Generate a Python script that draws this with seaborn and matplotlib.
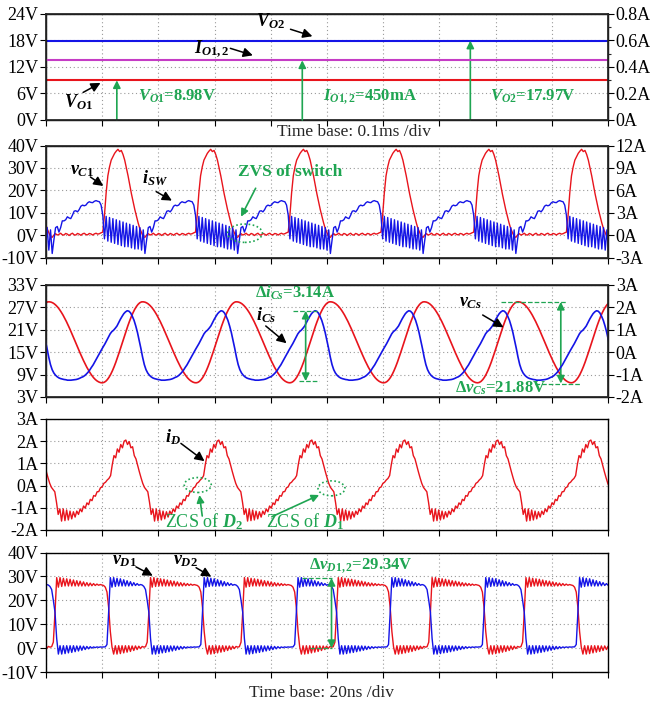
import numpy as np
import pandas as pd
import matplotlib
matplotlib.use("Agg")
import matplotlib.pyplot as plt
import seaborn as sns
from matplotlib.patches import Ellipse

# ---------------- panel 1: DC output levels (time base 0.1 ms/div) ----------------
P1_TIME_MS = [0.0, 1.0]
V_O1 = [8.98, 8.98]        # V
V_O2 = [17.97, 17.97]      # V
I_O12 = [0.45, 0.45]       # A

# ---------------- panels 2-5: one switching cycle each (time base 20 ns/div) --------
# panel 2: v_C1 (V) and i_SW (A); cycle starts at switch turn-off
P2_PERIOD_NS = 33.0
P2_START_NS = 20.2
VC1_CYCLE = [1.5, 9, 19, 26.5, 30.5, 33.5, 35, 36.5, 37.5, 38.3, 37.3, 37.8, 36, 33.5,
             30, 26.5, 22.5, 18.5, 15, 11.5, 8.5, 5.5, 3, 1.2, -0.5, -0.8, 0.2, 0.8,
             0.2, 0.5, 1.0, 0.3, 0.2, 0.9, 0.6, 0.0, 0.6, 1.0, 0.3, 0.2, 0.9, 0.6,
             0.1, 0.7, 1.0, 0.4, 0.3, 0.9, 0.7, 0.2, 0.7, 1.0, 0.6, 0.8, 1.2]
ISW_CYCLE = [2.7, -0.45, 2.55, -0.75, 2.4, -0.9, 2.25, -1.05, 2.1, -1.2, 1.95, -1.35,
             1.8, -1.5, 1.65, -1.5, 1.5, -1.65, 1.35, -1.8, 1.2, -1.8, 1.05, -1.95,
             0.75, -2.4, -0.6, 1.05, 1.2, 0.45, 1.05, 1.95, 1.95, 2.1, 2.49, 2.34,
             2.25, 2.7, 3.24, 3.3, 3.15, 3.45, 3.9, 4.05, 3.96, 4.05, 4.35, 4.5,
             4.41, 4.38, 4.56, 4.65, 4.56, 4.5, 4.05]

# panel 3: v_Cs (V, cycle starts at trough) and i_Cs (A, cycle starts at peak)
P3_PERIOD_NS = 33.4
VCS_START_NS = 20.0
ICS_START_NS = 28.9
VCS_CYCLE = [6.8, 6.9, 7.18, 7.65, 8.29, 9.09, 10.05, 11.14, 12.34, 13.64, 15.01, 16.42,
             17.85, 19.29, 20.69, 22.04, 23.3, 24.47, 25.52, 26.44, 27.2, 27.81, 28.23,
             28.47, 28.49, 28.41, 28.22, 27.92, 27.51, 27.01, 26.41, 25.72, 24.96,
             24.11, 23.22, 22.25, 21.25, 20.2, 19.13, 18.05, 16.95, 15.87, 14.81,
             13.77, 12.78, 11.83, 10.94, 10.13, 9.38, 8.72, 8.13, 7.66, 7.29, 7.02, 6.85]
ICS_CYCLE = [1.85, 1.83, 1.75, 1.60, 1.42, 1.17, 0.88, 0.53, 0.17, -0.22, -0.55, -0.78,
             -0.93, -1.03, -1.10, -1.15, -1.18, -1.20, -1.22, -1.23, -1.25, -1.25,
             -1.25, -1.24, -1.23, -1.22, -1.20, -1.17, -1.13, -1.10, -1.05, -0.98,
             -0.90, -0.80, -0.68, -0.57, -0.43, -0.30, -0.15, -0.02, 0.12, 0.25, 0.38,
             0.53, 0.68, 0.82, 0.92, 0.98, 1.07, 1.17, 1.32, 1.47, 1.60, 1.72, 1.80]

# panel 4: i_D (A), cycle starts at peak
P4_PERIOD_NS = 33.1
P4_START_NS = 28.4
ID_CYCLE = [2.05, 1.85, 1.98, 1.70, 1.75, 1.35, 1.20, 0.90, 0.62, 0.35, 0.10, -0.08,
            -0.18, -0.28, -0.75, -1.30, -1.05, -1.60, -1.05, -1.58, -1.10, -1.55,
            -1.15, -1.50, -1.18, -1.42, -1.15, -1.30, -1.05, -1.18, -0.92, -1.02,
            -0.78, -0.86, -0.62, -0.68, -0.45, -0.48, -0.28, -0.27, -0.10, -0.06,
            0.10, 0.15, 0.25, 0.32, 0.45, 0.95, 1.35, 1.25, 1.65, 1.50, 1.85, 1.70, 2.00]

# panel 5: v_D1 and v_D2 (V), cycle starts at v_D1 rising edge
P5_PERIOD_NS = 33.4
P5_START_NS = 3.2
VD1_CYCLE = [15, 29.5, 25.5, 29.5, 25.8, 29.2, 26.0, 29.0, 26.0, 28.8, 26.0, 28.5, 26.0,
             28.2, 26.0, 28.0, 26.0, 27.7, 26.0, 27.4, 26.0, 27.2, 26.1, 27.0, 26.2,
             26.8, 26.3, 26.6, 26.4, 26.2, 25.5, 23.5, 17.0, 7.0, 0.5, -2.5, 1.0, -2.5,
             1.0, -2.3, 1.0, -2.0, 1.0, -1.7, 1.0, -1.4, 0.9, -1.0, 0.9, -0.6, 0.8,
             -0.2, 0.7, 0.4, 0.6, 2.5]
VD2_CYCLE = [15, 4.0, -2.5, 1.0, -2.5, 1.0, -2.3, 1.0, -2.0, 1.0, -1.8, 1.0, -1.5, 0.9,
             -1.2, 0.9, -0.9, 0.8, -0.6, 0.7, -0.3, 0.6, 0.0, 0.5, 0.2, 0.5, 0.3, 0.5,
             0.4, 0.5, 0.5, 1.5, 15.0, 29.5, 25.5, 29.5, 25.8, 29.2, 26.0, 29.0, 26.0,
             28.6, 26.0, 28.2, 26.0, 27.8, 26.1, 27.4, 26.2, 27.0, 26.3, 26.6, 26.4,
             25.8, 24.5, 20.0]

# annotated measurements
DELTA_ICS = 3.14
DELTA_VCS = 21.88
DELTA_VD = 29.34

# tick values
P1_LEFT, P1_RIGHT = [0, 6, 12, 18, 24], [0, 0.2, 0.4, 0.6, 0.8]
P2_LEFT, P2_RIGHT = [-10, 0, 10, 20, 30, 40], [-3, 0, 3, 6, 9, 12]
P3_LEFT, P3_RIGHT = [3, 9, 15, 21, 27, 33], [-2, -1, 0, 1, 2, 3]
P4_LEFT = [-2, -1, 0, 1, 2, 3]
P5_LEFT = [-10, 0, 10, 20, 30, 40]

RED, BLUE, MAG, GREEN = "#e8141c", "#1414e6", "#c53cc5", "#1fa552"
T_END = 200.0
TICK_FS = 13

# ---------------- style ----------------
sns.set_theme(style="ticks")
plt.rcParams["font.family"] = ["Liberation Serif", "DejaVu Serif"]
plt.rcParams["mathtext.fontset"] = "custom"
plt.rcParams["mathtext.rm"] = "Liberation Serif:bold"
plt.rcParams["mathtext.it"] = "Liberation Serif:italic:bold"
plt.rcParams["mathtext.bf"] = "Liberation Serif:bold"


def periodic(cycle, period, start, t_end=T_END):
    n = len(cycle)
    step = period / n
    first = start - period * np.ceil(start / period)
    reps = int(np.ceil((t_end - first) / period)) + 1
    t = first + np.arange(n * reps) * step
    return pd.DataFrame({"t": t, "v": np.tile(np.asarray(cycle, float), reps)})


def trace(ax, df, color, lw=1.0):
    sns.lineplot(data=df, x="t", y="v", ax=ax, color=color, linewidth=lw,
                 estimator=None, sort=False, legend=False)
    ax.set_xlabel("")
    ax.set_ylabel("")


def style(ax, xmax, ylim, yticks, unit):
    ax.set_xlim(0, xmax)
    ax.set_ylim(*ylim)
    ax.set_xticks(np.linspace(0, xmax, 11))
    ax.set_xticklabels([])
    ax.set_yticks(yticks)
    ax.set_yticklabels([f"{v:g}{unit}" for v in yticks])
    ax.grid(True, ls=(0, (1, 2.5)), color="#9a9a9a", lw=0.8)
    ax.tick_params(direction="out", length=4, width=0.8, labelsize=TICK_FS, pad=1.5,
                   colors="black")
    for s in ax.spines.values():
        s.set_visible(True)
        s.set_color("black")
        s.set_linewidth(1.0)


def right_axis(ax2, ylim, yticks):
    ax2.set_ylim(*ylim)
    ax2.set_yticks(yticks)
    ax2.set_yticklabels([f"{v:g}A" for v in yticks])
    ax2.tick_params(direction="out", length=4, width=0.8, labelsize=TICK_FS, pad=1.5,
                    colors="black")
    ax2.grid(False)
    ax2.set_ylabel("")


def label(ax, text, xy, tail, head, size=13, color="black"):
    ax.text(xy[0], xy[1], text, transform=ax.transAxes, ha="center", va="center",
            fontsize=size, color=color)
    ax.annotate("", xy=head, xytext=tail, xycoords="axes fraction",
                textcoords="axes fraction",
                arrowprops=dict(arrowstyle="-|>", color=color, lw=1.1,
                                mutation_scale=14, shrinkA=0, shrinkB=0))


def garrow(ax, head, tail, coords="axes fraction", style="-|>"):
    ax.annotate("", xy=head, xytext=tail, xycoords=coords, textcoords=coords,
                arrowprops=dict(arrowstyle=style, color=GREEN, lw=1.2,
                                mutation_scale=11, shrinkA=0, shrinkB=0))


def gellipse(ax, c, w, h):
    ax.add_patch(Ellipse(c, w, h, transform=ax.transAxes, fill=False, ec=GREEN,
                         ls=(0, (1, 1.5)), lw=1.2, zorder=5))


def gtext(ax, xy, text, size=12, weight="bold"):
    ax.text(xy[0], xy[1], text, transform=ax.transAxes, ha="center", va="center",
            fontsize=size, color=GREEN, fontweight=weight)


fig = plt.figure(figsize=(6.5, 7.07), dpi=100)
L, W = 0.0708, 0.8646
ax1 = fig.add_axes([L, 0.8303, W, 0.1499])
ax2 = fig.add_axes([L, 0.6351, W, 0.1591])
ax3 = fig.add_axes([L, 0.4385, W, 0.1584])
ax4 = fig.add_axes([L, 0.2504, W, 0.1570])
ax5 = fig.add_axes([L, 0.0495, W, 0.1690])

# ---------- panel 1 ----------
trace(ax1, pd.DataFrame({"t": P1_TIME_MS, "v": V_O2}), BLUE, lw=1.5)
trace(ax1, pd.DataFrame({"t": P1_TIME_MS, "v": V_O1}), RED, lw=1.5)
style(ax1, 1.0, (0, 24), P1_LEFT, "V")
ax1r = ax1.twinx()
trace(ax1r, pd.DataFrame({"t": P1_TIME_MS, "v": I_O12}), MAG, lw=1.5)
right_axis(ax1r, (0, 0.8), P1_RIGHT)
ax1r.set_yticks([0.1, 0.3, 0.5, 0.7], minor=True)
ax1r.tick_params(which="minor", direction="out", length=2.5, width=0.8)

label(ax1r, r"$V_{O2}$", (0.40, 0.935), (0.435, 0.856), (0.474, 0.79))
label(ax1r, r"$I_{O1,2}$", (0.294, 0.665), (0.328, 0.676), (0.368, 0.61))
label(ax1r, r"$V_{O1}$", (0.057, 0.165), (0.066, 0.26), (0.097, 0.35))
garrow(ax1, (0.126, V_O1[0]), (0.126, 0.0), coords="data")
garrow(ax1r, (0.456, I_O12[0]), (0.456, 0.0), coords="data")
garrow(ax1, (0.755, V_O2[0]), (0.755, 0.0), coords="data")
gtext(ax1r, (0.233, 0.22), rf"$V_{{O1}}$={V_O1[0]:.2f}V")
gtext(ax1r, (0.576, 0.22), rf"$I_{{O1,2}}$={I_O12[0]*1000:.0f}mA")
gtext(ax1r, (0.865, 0.22), rf"$V_{{O2}}$={V_O2[0]:.2f}V")
fig.text(0.545, 0.813, "Time base: 0.1ms /div", ha="center", va="center", fontsize=12.5)

# ---------- panel 2 ----------
trace(ax2, periodic(VC1_CYCLE, P2_PERIOD_NS, P2_START_NS), RED)
style(ax2, T_END, (-10, 40), P2_LEFT, "V")
ax2r = ax2.twinx()
trace(ax2r, periodic(ISW_CYCLE, P2_PERIOD_NS, P2_START_NS), BLUE)
right_axis(ax2r, (-3, 12), P2_RIGHT)
label(ax2r, r"$v_{C1}$", (0.064, 0.78), (0.079, 0.72), (0.102, 0.64))
label(ax2r, r"$i_{SW}$", (0.194, 0.71), (0.196, 0.59), (0.224, 0.51))
gtext(ax2r, (0.435, 0.76), "ZVS of switch", size=12.5)
garrow(ax2r, (0.347, 0.367), (0.373, 0.62))
gellipse(ax2r, (0.354, 0.22), 0.062, 0.163)

# ---------- panel 3 ----------
trace(ax3, periodic(VCS_CYCLE, P3_PERIOD_NS, VCS_START_NS), RED, lw=1.2)
style(ax3, T_END, (3, 33), P3_LEFT, "V")
ax3r = ax3.twinx()
trace(ax3r, periodic(ICS_CYCLE, P3_PERIOD_NS, ICS_START_NS), BLUE, lw=1.2)
right_axis(ax3r, (-2, 3), P3_RIGHT)
ics_top = max(ICS_CYCLE)
ics_bot = ics_top - DELTA_ICS
ax3r.axhline(ics_top, 0.439, 0.483, color=GREEN, ls="--", lw=0.9)
ax3r.axhline(ics_bot, 0.450, 0.486, color=GREEN, ls="--", lw=0.9)
garrow(ax3r, (0.462 * T_END, ics_top), (0.462 * T_END, ics_bot), coords="data",
       style="<|-|>")
gtext(ax3r, (0.443, 0.926), rf"Δ$i_{{Cs}}$={DELTA_ICS:.2f}A")
vcs_top = max(VCS_CYCLE)
vcs_bot = vcs_top - DELTA_VCS
ax3.axhline(vcs_top, 0.81, 0.927, color=GREEN, ls="--", lw=0.9)
ax3.axhline(vcs_bot, 0.87, 0.95, color=GREEN, ls="--", lw=0.9)
ax3.annotate("", xy=(0.916 * T_END, vcs_top), xytext=(0.916 * T_END, vcs_bot),
             arrowprops=dict(arrowstyle="<|-|>", color=GREEN, lw=1.2,
                             mutation_scale=11, shrinkA=0, shrinkB=0), zorder=6)
gtext(ax3r, (0.808, 0.078), rf"Δ$v_{{Cs}}$={DELTA_VCS:.2f}V")
label(ax3r, r"$i_{Cs}$", (0.392, 0.73), (0.391, 0.634), (0.428, 0.48))
label(ax3r, r"$v_{Cs}$", (0.755, 0.84), (0.777, 0.732), (0.814, 0.622))

# ---------- panel 4 ----------
trace(ax4, periodic(ID_CYCLE, P4_PERIOD_NS, P4_START_NS), RED)
style(ax4, T_END, (-2, 3), P4_LEFT, "A")
label(ax4, r"$i_{D}$", (0.226, 0.84), (0.24, 0.78), (0.282, 0.62))
gellipse(ax4, (0.27, 0.405), 0.048, 0.135)
gellipse(ax4, (0.508, 0.375), 0.048, 0.135)
garrow(ax4, (0.273, 0.315), (0.278, 0.126))
garrow(ax4, (0.486, 0.315), (0.402, 0.12))
gtext(ax4, (0.281, 0.075), r"ZCS of $D_2$", size=13, weight="normal")
gtext(ax4, (0.461, 0.075), r"ZCS of $D_1$", size=13, weight="normal")

# ---------- panel 5 ----------
trace(ax5, periodic(VD1_CYCLE, P5_PERIOD_NS, P5_START_NS), RED)
trace(ax5, periodic(VD2_CYCLE, P5_PERIOD_NS, P5_START_NS), BLUE)
style(ax5, T_END, (-10, 40), P5_LEFT, "V")
label(ax5, r"$v_{D1}$", (0.139, 0.937), (0.16, 0.88), (0.19, 0.806))
label(ax5, r"$v_{D2}$", (0.248, 0.937), (0.267, 0.873), (0.294, 0.798))
ax5.axhline(DELTA_VD, 0.455, 0.508, color=GREEN, ls="--", lw=0.9)
ax5.axhline(0.0, 0.47, 0.508, color=GREEN, ls="--", lw=0.9)
garrow(ax5, (0.508 * T_END, DELTA_VD), (0.508 * T_END, 0.0), coords="data",
       style="<|-|>")
gtext(ax5, (0.56, 0.895), rf"Δ$v_{{D1,2}}$={DELTA_VD:.2f}V")
fig.text(0.495, 0.0198, "Time base: 20ns /div", ha="center", va="center", fontsize=12.5)

fig.savefig("out.png", dpi=100)
